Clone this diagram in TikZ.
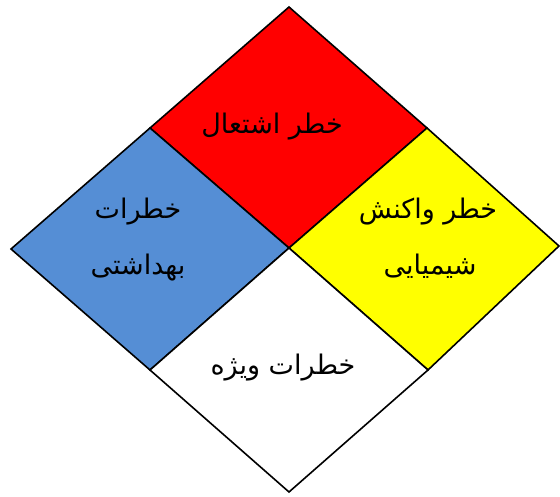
\documentclass[tikz,border=0pt]{standalone}
\usepackage{fontspec}
\TeXXeTstate=1
\newfontfamily\arabicfont[Script=Arabic]{DejaVu Sans}
\definecolor{hblue}{RGB}{85,142,213}
\definecolor{hred}{RGB}{255,0,0}
\definecolor{hyellow}{RGB}{255,255,0}
\begin{document}
\begin{tikzpicture}[x=1pt,y=1pt,
  quad/.style={draw=black,line width=1.6pt,line join=miter},
  lbl/.style={font=\arabicfont\fontsize{27}{32}\selectfont,align=center,inner sep=0pt}]
\useasboundingbox (0,0) rectangle (560,496);
\coordinate (T) at (289,489);
\coordinate (L) at (11,247);
\coordinate (R) at (559,250);
\coordinate (B) at (289,4);
\coordinate (C) at (289,248);
\coordinate (TL) at (150,368);
\coordinate (TR) at (427,368);
\coordinate (BL) at (150,126);
\coordinate (BR) at (428,126);
\fill[white] (0,0) rectangle (560,496);
\draw[quad,fill=hred] (T) -- (TR) -- (C) -- (TL) -- cycle;
\draw[quad,fill=hblue] (TL) -- (C) -- (BL) -- (L) -- cycle;
\draw[quad,fill=hyellow] (TR) -- (R) -- (BR) -- (C) -- cycle;
\draw[quad,fill=white] (C) -- (BR) -- (B) -- (BL) -- cycle;
\node[lbl] (fire) at (272,369) {\beginR خطر اشتعال\endR};
\node[lbl] (health1) at (138,284) {\beginR خطرات\endR};
\node[lbl] (health2) at (138,228) {\beginR بهداشتی\endR};
\node[lbl] (react1) at (428,284) {\beginR خطر واکنش\endR};
\node[lbl] (react2) at (430,230) {\beginR شیمیایی\endR};
\node[lbl] (special) at (283,128) {\beginR خطرات ویژه\endR};
\end{tikzpicture}
\end{document}
